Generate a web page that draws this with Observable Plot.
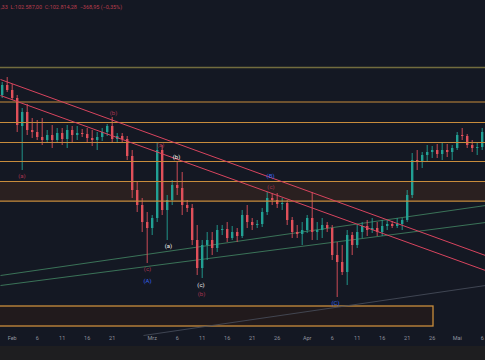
<!DOCTYPE html>
<html><head><meta charset="utf-8">
<script src="https://cdn.jsdelivr.net/npm/d3@7"></script>
<script src="https://cdn.jsdelivr.net/npm/@observablehq/plot@0.6"></script>
<style>
html,body{margin:0;padding:0;background:#141823;width:485px;height:360px;overflow:hidden;}
#chart svg{display:block;}
#footer{height:14px;background:#1e1e20;}
</style></head><body>
<div id="chart"></div><div id="footer"></div>
<script>
// ---- header / axis text ----
const headerText = [",33  L:102.587,00  C:102.814,28  \u2212368,95 (\u22120,35%)"];
const tickDates = ["2025-02-01","2025-02-06","2025-02-11","2025-02-16","2025-02-21","2025-03-01","2025-03-06","2025-03-11","2025-03-16","2025-03-21","2025-03-26","2025-04-01","2025-04-06","2025-04-11","2025-04-16","2025-04-21","2025-04-26","2025-05-01","2025-05-06"];
const tickLabels = ["Feb","6","11","16","21","Mrz","6","11","16","21","26","Apr","6","11","16","21","26","Mai","6"];

// ---- daily candles, 30 Jan .. 6 May 2025 ----
const opens  = [103100,104500,103800,102680,98760,100720,98200,97920,97220,96800,97500,96800,97780,96940,98200,97500,97780,97640,97080,96800,97220,97920,98760,96940,97360,96940,94560,89800,87700,85320,84480,85880,95400,87000,88400,90500,90080,87700,87280,82800,78880,82100,82800,81680,84200,84340,83080,83920,83360,86300,85320,84900,85040,86720,88680,88400,87840,87980,85600,83920,83640,84200,85880,83920,84200,84900,84480,80700,79720,78320,83500,82100,83920,84760,84200,84480,83920,84760,85040,84760,85040,85600,89100,94000,93720,94700,95120,95400,94840,95400,95120,95680,97500,97360,96100,95680,95820];
const highs  = [104920,105620,104640,103100,101280,101840,99880,99600,99880,98200,98900,98480,98480,98900,98760,98760,98340,98480,98200,97920,98480,99040,100020,97780,97780,97360,95400,90920,88680,86720,86300,96380,96100,89100,91200,93720,92320,88400,87840,84900,82800,83920,83920,84900,84900,85320,84760,84480,87000,87700,85880,85600,87280,89520,89380,89380,88680,88400,86020,84900,85320,86300,89520,85320,85880,85320,84900,82520,82100,84200,83920,84900,85320,85600,85880,85320,85600,85600,85460,85880,85880,89800,94980,95400,95120,96100,95960,96240,96380,96240,96100,97920,98480,97640,96800,96380,98480];
const lows   = [102680,103520,102400,97920,92600,97500,97080,96800,96100,96520,95680,96380,96100,95680,96520,96800,97220,96520,95960,95400,96660,97360,96380,96520,96520,94000,88680,86720,83920,79580,83500,85320,86300,82800,87700,89100,86300,86720,82100,77900,77480,80000,80700,81120,83500,82520,82800,82520,83080,84480,84200,84480,84620,86300,87700,87280,87000,84900,83080,83080,82100,83780,82800,82800,83080,83920,80000,74820,77900,76500,80700,81680,83080,83360,83780,83360,83360,84200,84480,84480,84200,85320,88680,92600,92880,93720,94280,94280,94000,94420,94000,95400,96800,95680,95120,94700,95400];
const closes = [104500,103800,102680,98900,100720,98200,97920,97220,96800,97500,96800,97780,96940,98200,97500,97780,97640,97080,96800,97220,97920,98760,96940,97360,96940,94560,89800,87700,85320,84480,85880,95400,87000,88400,90500,90080,87700,87280,82800,78880,82100,82800,81680,84200,84340,83080,83920,83360,86300,85320,84900,85040,86720,88680,88400,87840,87980,85600,83920,83640,84200,85880,83920,84200,84900,84480,80700,79720,78320,83500,82100,83920,84760,84200,84480,83920,84760,85040,84760,85040,85600,89100,94000,93720,94700,95120,95400,94840,95400,95120,95680,97500,97360,96100,95680,95820,97920];

// ---- horizontal levels ----
const topLevel = [107020];
const levels = [102190, 99320, 96520, 93860, 91060, 88300];
const zoneLow = [88300], zoneHigh = [91060];
const boxStart = ["2025-01-20"], boxEnd = ["2025-04-26T06:15Z"], boxLow = [70760], boxHigh = [73560];

// ---- trend lines ----
const redStartDate = ["2025-01-29T15:50Z","2025-01-29T15:50Z"], redStartPrice = [105340,103100];
const redEndDate   = ["2025-05-06T15:50Z","2025-05-06T15:50Z"], redEndPrice   = [80700,78600];
const greenStartDate = ["2025-01-29T15:50Z","2025-01-29T15:50Z"], greenStartPrice = [77900,76500];
const greenEndDate   = ["2025-05-06T15:50Z","2025-05-06T15:50Z"], greenEndPrice   = [87700,85320];
const grayStartDate = ["2025-02-27T06:15Z"], grayStartPrice = [69500];
const grayEndDate   = ["2025-05-06T15:50Z"], grayEndPrice   = [76500];

// ---- wave labels ----
const waveText  = ["(a)","(b)","(c)","(A)","(a)","(b)","(a)","(c)","(b)","(B)","(c)","(C)"];
const waveDate  = ["2025-02-02T23:00Z","2025-02-21T06:15Z","2025-02-28T01:30Z","2025-02-28T01:30Z","2025-03-02T16:00Z","2025-03-05T20:40Z","2025-03-04T06:15Z","2025-03-10T18:15Z","2025-03-10T20:40Z","2025-03-24T16:00Z","2025-03-24T18:15Z","2025-04-06T16:00Z"];
const wavePrice = [91760,100580,78740,77060,96100,94420,81960,76570,75240,91830,90220,74050];
const waveKind  = ["red","red","red","blue","red","white","white","white","red","blue","red","blue"];

// ---- build tables ----
const days = d3.utcDay.range(new Date("2025-01-30"), new Date("2025-05-07"));
const candles = days.map((d, i) => ({date: d, open: opens[i], high: highs[i], low: lows[i], close: closes[i]}));
const up = "#22a094", down = "#e0505a";
const cc = d => d.close >= d.open ? up : down;
const links = (sd, sp, ed, ep) => sd.map((d, i) => ({x1: new Date(d), y1: sp[i], x2: new Date(ed[i]), y2: ep[i]}));
const waves = waveText.map((t, i) => ({t, date: new Date(waveDate[i]), price: wavePrice[i], kind: waveKind[i]}));
const kindColor = {red: "#a83450", blue: "#3563f0", white: "#f2f2f2"};
const tickMap = new Map(tickDates.map((d, i) => [+new Date(d), tickLabels[i]]));
const xDomain = [new Date("2025-01-29T15:50Z"), new Date("2025-05-06T15:50Z")];
const wideX1 = new Date("2025-01-20"), wideX2 = new Date("2025-05-15");

const chart = Plot.plot({
  width: 485, height: 346,
  marginTop: 0, marginBottom: 13, marginLeft: 0, marginRight: 0,
  style: {background: "#141823", color: "#8f939e", fontFamily: "Roboto, 'DejaVu Sans', sans-serif"},
  x: {type: "utc", domain: xDomain, axis: null},
  y: {domain: [69780, 116400], axis: null},
  color: {type: "identity"},
  marks: [
    Plot.rect(zoneLow, {x1: () => wideX1, x2: () => wideX2, y1: d => d, y2: (d, i) => zoneHigh[i], fill: "#2a2020", clip: true}),
    Plot.rect(boxLow, {x1: (d, i) => new Date(boxStart[i]), x2: (d, i) => new Date(boxEnd[i]), y1: d => d, y2: (d, i) => boxHigh[i], fill: "#211a1c", stroke: "#c98d3c", strokeWidth: 1.3, clip: true}),
    Plot.link(links(grayStartDate, grayStartPrice, grayEndDate, grayEndPrice), {x1: "x1", y1: "y1", x2: "x2", y2: "y2", stroke: "#4a505e", strokeWidth: 0.8}),
    Plot.link(links(greenStartDate, greenStartPrice, greenEndDate, greenEndPrice), {x1: "x1", y1: "y1", x2: "x2", y2: "y2", stroke: "#3e7d5e", strokeWidth: 0.9}),
    Plot.ruleX(candles, {x: "date", y1: "low", y2: "high", stroke: cc, strokeWidth: 0.9}),
    Plot.ruleX(candles, {x: "date", y1: "open", y2: "close", stroke: cc, strokeWidth: 2.4}),
    Plot.ruleY(topLevel, {y: d => d, stroke: "#726c3e", strokeWidth: 1.3}),
    Plot.ruleY(levels, {y: d => d, stroke: "#c88c3c", strokeWidth: 1.2}),
    Plot.link(links(redStartDate, redStartPrice, redEndDate, redEndPrice), {x1: "x1", y1: "y1", x2: "x2", y2: "y2", stroke: "#d8445e", strokeWidth: 1}),
    Plot.text(waves, {x: "date", y: "price", text: "t", fill: d => kindColor[d.kind], fontSize: 6, fontWeight: d => d.kind === "white" ? "bold" : "normal"}),
    Plot.text(headerText, {frameAnchor: "top-left", text: d => d, dx: 0, dy: 5, textAnchor: "start", fill: "#b83c4c", fontSize: 5.5}),
    Plot.axisX(tickDates.map(d => new Date(d)), {tickSize: 0, tickPadding: 3, fontSize: 5.5, tickFormat: d => tickMap.get(+d)})
  ]
});
document.getElementById("chart").appendChild(chart);
</script>
</body></html>
